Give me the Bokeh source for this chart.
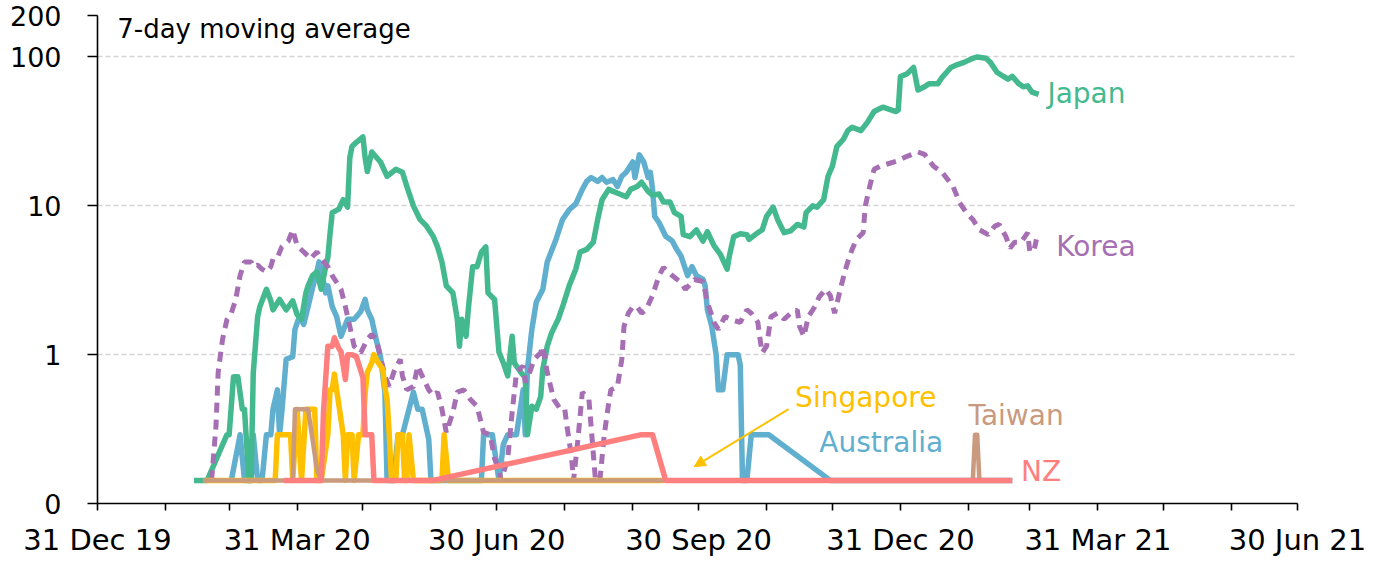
import pandas as pd
from bokeh.plotting import figure
from bokeh.models import (Range1d, FixedTicker, DatetimeTickFormatter, Label,
                          Arrow, NormalHead, ColumnDataSource)
from bokeh.embed import file_html
from bokeh.resources import INLINE

# ---------------- data (7-day moving average of daily deaths) ----------------
japan_dates = ["2020-02-13","2020-02-19","2020-02-28","2020-02-29","2020-03-02","2020-03-04","2020-03-06","2020-03-07",
 "2020-03-09","2020-03-10","2020-03-11","2020-03-13","2020-03-14","2020-03-17","2020-03-19","2020-03-20","2020-03-23",
 "2020-03-26","2020-03-29","2020-03-31","2020-04-02","2020-04-04","2020-04-05","2020-04-07","2020-04-09","2020-04-11",
 "2020-04-13","2020-04-14","2020-04-15","2020-04-16","2020-04-19","2020-04-21","2020-04-23","2020-04-24","2020-04-25",
 "2020-04-27","2020-04-30","2020-05-01","2020-05-02","2020-05-04","2020-05-08","2020-05-11","2020-05-15","2020-05-18",
 "2020-05-20","2020-05-23","2020-05-26","2020-05-29","2020-06-01","2020-06-03","2020-06-05","2020-06-07","2020-06-10",
 "2020-06-12","2020-06-13","2020-06-14","2020-06-16","2020-06-17","2020-06-19","2020-06-21","2020-06-23","2020-06-25",
 "2020-06-26","2020-06-29","2020-07-01","2020-07-03","2020-07-05","2020-07-07","2020-07-08","2020-07-11","2020-07-13",
 "2020-07-14","2020-07-16","2020-07-18","2020-07-20","2020-07-21","2020-07-23","2020-07-25","2020-07-28","2020-07-30",
 "2020-08-02","2020-08-05","2020-08-07","2020-08-10","2020-08-13","2020-08-15","2020-08-17","2020-08-20","2020-08-22",
 "2020-08-25","2020-08-28","2020-08-30","2020-09-02","2020-09-04","2020-09-07","2020-09-09","2020-09-12","2020-09-14",
 "2020-09-17","2020-09-19","2020-09-22","2020-09-23","2020-09-26","2020-09-29","2020-10-02","2020-10-04","2020-10-07",
 "2020-10-10","2020-10-13","2020-10-14","2020-10-16","2020-10-19","2020-10-22","2020-10-23","2020-10-27","2020-10-29",
 "2020-10-31","2020-11-03","2020-11-05","2020-11-08","2020-11-11","2020-11-14","2020-11-17","2020-11-18","2020-11-21",
 "2020-11-23","2020-11-26","2020-11-28","2020-11-30","2020-12-02","2020-12-05","2020-12-07","2020-12-09","2020-12-13",
 "2020-12-16","2020-12-19","2020-12-21","2020-12-23","2020-12-26","2020-12-29","2020-12-30","2020-12-31","2021-01-03",
 "2021-01-06","2021-01-08","2021-01-11","2021-01-13","2021-01-17","2021-01-19","2021-01-23","2021-01-26","2021-01-29",
 "2021-02-02","2021-02-04","2021-02-08","2021-02-10","2021-02-13","2021-02-16","2021-02-18","2021-02-20","2021-02-23",
 "2021-02-25","2021-02-27","2021-03-01","2021-03-04"]
japan_values = [0.143,0.143,0.29,0.29,0.71,0.71,0.43,0.43,
 0.143,0.143,0.75,1.8,2.1,2.75,2.3,2.0,2.35,
 2.0,2.3,1.86,1.73,2.6,2.9,3.4,3.6,2.75,
 3.9,4.5,6.5,9.0,9.5,11,9.8,21,25,
 26.7,29,21,17,23,19.7,15.8,17.6,16.8,
 13.5,10,8.1,7.3,6.25,5.3,4.2,2.9,2.6,
 1.73,1.14,1.73,1.33,2.0,3.9,3.9,4.9,5.3,
 2.6,2.35,1.04,0.88,0.72,1.33,0.88,0.76,0.7,
 0.29,0.45,0.43,0.52,0.8,1.14,1.4,1.73,2.1,
 2.9,3.75,4.9,5.1,5.7,8.1,11,12.9,12.5,
 12,11.5,12.9,13.5,14.4,12.5,11.8,12,10.6,
 10.6,9.0,8.5,6.4,6.2,6.9,5.8,6.7,5.4,
 4.7,3.75,4.6,6.2,6.5,6.4,5.95,6.6,6.9,
 8.5,9.8,8.1,6.6,6.8,7.5,7.2,9.0,10,
 9.8,11,15.8,18.5,25,28,32,33.7,32,
 36.5,43,44.5,46,44.5,43,44,74,77,
 85,60,63,66,66,73,85,89,92,
 98,100,98,92,79,74,71,74,66,
 63,64,58,56]

korea_dates = ["2020-02-21","2020-02-23","2020-02-24","2020-02-26","2020-02-28","2020-03-01","2020-03-03","2020-03-05",
 "2020-03-07","2020-03-10","2020-03-11","2020-03-13","2020-03-15","2020-03-17","2020-03-19","2020-03-20","2020-03-22",
 "2020-03-24","2020-03-27","2020-03-29","2020-03-31","2020-04-03","2020-04-05","2020-04-06","2020-04-09","2020-04-11",
 "2020-04-14","2020-04-16","2020-04-20","2020-04-22","2020-04-24","2020-04-26","2020-04-29","2020-05-02","2020-05-04",
 "2020-05-06","2020-05-08","2020-05-10","2020-05-12","2020-05-14","2020-05-17","2020-05-18","2020-05-20","2020-05-23",
 "2020-05-25","2020-05-27","2020-05-30","2020-06-01","2020-06-03","2020-06-05","2020-06-07","2020-06-10","2020-06-12",
 "2020-06-15","2020-06-18","2020-06-21","2020-06-24","2020-06-27","2020-06-29","2020-07-01","2020-07-02","2020-07-05",
 "2020-07-07","2020-07-09","2020-07-12","2020-07-13","2020-07-15","2020-07-17","2020-07-20","2020-07-21","2020-07-23",
 "2020-07-26","2020-07-29","2020-07-31","2020-08-01","2020-08-03","2020-08-04","2020-08-06","2020-08-08","2020-08-11",
 "2020-08-12","2020-08-14","2020-08-16","2020-08-18","2020-08-20","2020-08-21","2020-08-24","2020-08-26","2020-08-27",
 "2020-08-29","2020-08-31","2020-09-02","2020-09-04","2020-09-06","2020-09-09","2020-09-12","2020-09-14","2020-09-16",
 "2020-09-18","2020-09-22","2020-09-24","2020-09-26","2020-09-28","2020-10-02","2020-10-04","2020-10-07","2020-10-09",
 "2020-10-12","2020-10-16","2020-10-19","2020-10-22","2020-10-24","2020-10-27","2020-10-28","2020-10-29","2020-10-31",
 "2020-11-02","2020-11-05","2020-11-08","2020-11-11","2020-11-14","2020-11-15","2020-11-17","2020-11-19","2020-11-22",
 "2020-11-24","2020-11-27","2020-11-29","2020-12-01","2020-12-04","2020-12-06","2020-12-07","2020-12-09","2020-12-11",
 "2020-12-14","2020-12-15","2020-12-17","2020-12-19","2020-12-22","2020-12-25","2020-12-29","2021-01-03","2021-01-08",
 "2021-01-11","2021-01-15","2021-01-19","2021-01-24","2021-01-27","2021-01-30","2021-02-02","2021-02-05","2021-02-09",
 "2021-02-12","2021-02-14","2021-02-17","2021-02-19","2021-02-21","2021-02-24","2021-02-27","2021-02-28","2021-03-02",
 "2021-03-03"]
korea_values = [0.143,0.33,0.76,1.27,1.72,1.9,2.35,3.4,
 4.2,4.2,3.9,4.0,3.75,3.6,3.9,4.4,4.5,
 5.3,5.8,6.9,5.4,4.9,4.6,4.4,4.9,4.4,
 3.9,3.4,2.75,2.1,1.55,1.14,1.03,1.27,1.37,
 1.27,0.97,0.72,0.61,0.76,0.93,0.72,0.58,0.61,
 0.84,0.72,0.58,0.53,0.56,0.43,0.3,0.41,0.56,
 0.58,0.5,0.45,0.3,0.29,0.2,0.17,0.143,0.2,
 0.41,0.76,0.84,0.65,0.76,0.93,1.03,1.14,0.76,
 0.5,0.43,0.43,0.33,0.21,0.143,0.27,0.56,0.5,
 0.33,0.143,0.143,0.29,0.47,0.58,0.61,0.93,1.55,
 1.9,2.1,2.1,1.9,2.0,2.5,3.4,3.85,3.6,
 3.4,3.05,2.75,2.95,3.2,3.1,2.25,1.65,1.48,
 1.8,1.7,1.65,2.0,1.9,1.65,1.27,1.03,1.14,
 1.8,1.9,1.73,1.9,2.0,1.55,1.33,1.8,2.1,
 2.45,2.75,2.5,1.9,2.9,3.75,4.2,5.1,5.95,
 6.6,10,13.5,17.6,18.5,19.1,19.9,21.5,23,
 22.2,18.5,16.8,13.5,10.5,9.0,8.1,6.9,6.4,
 7.3,7.5,6.25,5.2,5.7,5.7,6.6,4.9,5.1,
 5.95]

australia_dates = ["2020-03-01","2020-03-05","2020-03-07","2020-03-10","2020-03-11","2020-03-13","2020-03-15","2020-03-17",
 "2020-03-19","2020-03-20","2020-03-22","2020-03-23","2020-03-24","2020-03-26","2020-03-29","2020-03-30","2020-04-01",
 "2020-04-03","2020-04-05","2020-04-07","2020-04-09","2020-04-10","2020-04-11","2020-04-13","2020-04-14","2020-04-16",
 "2020-04-18","2020-04-20","2020-04-23","2020-04-26","2020-04-29","2020-05-01","2020-05-02","2020-05-04","2020-05-06",
 "2020-05-08","2020-05-10","2020-05-11","2020-05-14","2020-05-16","2020-05-18","2020-05-21","2020-05-23","2020-05-25",
 "2020-05-27","2020-05-30","2020-05-31","2020-06-23","2020-06-24","2020-06-28","2020-07-01","2020-07-03","2020-07-05",
 "2020-07-09","2020-07-12","2020-07-13","2020-07-14","2020-07-16","2020-07-18","2020-07-21","2020-07-23","2020-07-27",
 "2020-07-30","2020-08-02","2020-08-05","2020-08-08","2020-08-10","2020-08-12","2020-08-15","2020-08-17","2020-08-19",
 "2020-08-22","2020-08-24","2020-08-26","2020-08-28","2020-08-31","2020-09-01","2020-09-03","2020-09-05","2020-09-07",
 "2020-09-08","2020-09-09","2020-09-10","2020-09-12","2020-09-15","2020-09-18","2020-09-20","2020-09-22","2020-09-25",
 "2020-09-27","2020-09-29","2020-10-02","2020-10-03","2020-10-04","2020-10-06","2020-10-08","2020-10-09","2020-10-11",
 "2020-10-13","2020-10-18","2020-10-19","2020-10-20","2020-10-22","2020-10-24","2020-11-01","2020-11-29","2021-02-20"]
australia_values = [0.143,0.29,0.143,0.143,0.29,0.143,0.143,0.29,
 0.29,0.43,0.58,0.29,0.41,0.93,0.97,1.48,1.8,
 1.6,2.1,2.8,3.6,4.2,3.75,2.6,2.9,2.1,
 1.8,1.33,1.73,1.73,1.95,2.35,2.0,1.73,1.27,
 0.97,0.56,0.143,0.143,0.29,0.29,0.43,0.56,0.43,
 0.43,0.27,0.143,0.143,0.29,0.29,0.143,0.25,0.29,
 0.29,0.58,0.29,0.8,1.48,2.25,2.75,4.2,5.95,
 8.1,9.4,10.3,12.9,14.6,15.5,14.6,15.5,14.4,
 15,13.5,15.8,16.8,19.7,15.5,22,19.7,15.5,
 16.8,12.9,8.5,7.7,6.25,5.8,5.1,4.6,3.4,
 3.9,3.4,3.2,2.9,2.0,1.55,1.0,0.58,0.58,
 1.0,1.0,0.85,0.143,0.143,0.29,0.29,0.143,0.143]

singapore_dates = ["2020-02-18","2020-03-21","2020-03-22","2020-03-28","2020-03-29","2020-03-31","2020-04-02","2020-04-04",
 "2020-04-08","2020-04-09","2020-04-11","2020-04-14","2020-04-15","2020-04-16","2020-04-17","2020-04-18","2020-04-21",
 "2020-04-22","2020-04-23","2020-04-25","2020-04-26","2020-04-28","2020-04-30","2020-05-01","2020-05-02","2020-05-04",
 "2020-05-05","2020-05-07","2020-05-09","2020-05-10","2020-05-11","2020-05-12","2020-05-13","2020-05-15","2020-05-16",
 "2020-05-18","2020-05-19","2020-05-20","2020-05-21","2020-05-23","2020-06-05","2020-06-06","2020-06-08","2020-09-14"]
singapore_values = [0.143,0.143,0.29,0.29,0.143,0.43,0.143,0.43,
 0.43,0.143,0.143,0.29,0.58,0.58,0.74,0.58,0.29,
 0.143,0.29,0.29,0.143,0.29,0.29,0.55,0.76,0.88,
 1.0,0.88,0.8,0.61,0.5,0.29,0.143,0.143,0.29,
 0.29,0.143,0.143,0.29,0.143,0.143,0.29,0.143,0.143]

nz_dates = ["2020-03-25","2020-04-11","2020-04-12","2020-04-14","2020-04-16","2020-04-17","2020-04-19","2020-04-20",
 "2020-04-22","2020-04-23","2020-04-25","2020-04-27","2020-04-30","2020-05-01","2020-05-04","2020-05-05","2020-06-01",
 "2020-09-04","2020-09-09","2020-09-15","2021-02-20"]
nz_values = [0.143,0.143,0.41,1.14,1.14,1.3,1.1,1.05,
 0.68,1.0,1.0,0.97,0.7,0.29,0.29,0.143,0.143,
 0.29,0.29,0.143,0.143]

taiwan_dates = ["2020-02-17","2020-03-29","2020-03-30","2020-04-05","2020-04-07","2020-04-09","2020-04-11","2021-02-02",
 "2021-02-03","2021-02-04","2021-02-05","2021-02-10"]
taiwan_values = [0.143,0.143,0.43,0.43,0.27,0.17,0.143,0.143,
 0.29,0.29,0.143,0.143]

y_tick_values = [0.1, 1, 10, 100, 190]
y_tick_labels = ["0", "1", "10", "100", "200"]
x_start, x_end = "2019-12-31", "2021-06-30"

# ---------------- style ----------------
FONT = "DejaVu Sans"
C_JAPAN, C_KOREA, C_AUS = "#44B98F", "#A66FB4", "#60AFCF"
C_SING, C_NZ, C_TWN = "#FFC000", "#FF7F7F", "#C99A7E"

def ms(s):
    return pd.Timestamp(s).value / 1e6

p = figure(width=1369, height=564, x_axis_type="datetime", y_axis_type="log",
           x_range=Range1d(ms(x_start), ms(x_end)), y_range=Range1d(0.1, 190),
           output_backend="svg", toolbar_location=None,
           min_border_left=97, min_border_right=72, min_border_top=15, min_border_bottom=61)
p.outline_line_color = None
p.background_fill_color = "white"
p.border_fill_color = "white"

def src(d, v):
    return ColumnDataSource(dict(x=pd.to_datetime(d), y=v))

LW = 5.5
p.line("x", "y", source=src(australia_dates, australia_values), color=C_AUS, line_width=LW, line_join="round")
p.line("x", "y", source=src(japan_dates, japan_values), color=C_JAPAN, line_width=LW, line_join="round")
p.line("x", "y", source=src(korea_dates, korea_values), color=C_KOREA, line_width=5, line_dash="10 7")
p.line("x", "y", source=src(singapore_dates, singapore_values), color=C_SING, line_width=LW, line_join="round")
p.line("x", "y", source=src(taiwan_dates, taiwan_values), color=C_TWN, line_width=4.5, line_join="round")
p.line("x", "y", source=src(nz_dates, nz_values), color=C_NZ, line_width=LW, line_join="round")

# ---------------- axes ----------------
months = pd.date_range("2020-01-31", "2021-05-31", freq="ME")
quarters = [ms(d) for d in pd.date_range(x_start, x_end, freq="QE")]
minor = [ms(d) for d in months if ms(d) not in quarters]
xa = p.xaxis[0]
xa.ticker = FixedTicker(ticks=quarters, minor_ticks=minor)
xa.formatter = DatetimeTickFormatter(days="%d %b %y", months="%d %b %y", years="%d %b %y")
xa.major_tick_out = 7; xa.major_tick_in = 0
xa.minor_tick_out = 7; xa.minor_tick_in = 0
xa.minor_tick_line_color = "black"
xa.major_label_standoff = 12
xa.major_label_text_font = FONT
xa.major_label_text_font_size = "29px"
xa.major_label_text_color = "black"

ya = p.yaxis[0]
ya.ticker = FixedTicker(ticks=y_tick_values, minor_ticks=[])
ya.major_label_overrides = {k: v for k, v in zip(y_tick_values, y_tick_labels)}
ya.major_tick_out = 10; ya.major_tick_in = 0
ya.major_label_standoff = 26
ya.major_label_text_font = FONT
ya.major_label_text_font_size = "27px"
ya.major_label_text_color = "black"

for ax in (xa, ya):
    ax.axis_line_color = "black"; ax.axis_line_width = 1.6
    ax.major_tick_line_color = "black"; ax.major_tick_line_width = 1.6
    ax.minor_tick_line_width = 1.6

p.xgrid.visible = False
p.ygrid.ticker = FixedTicker(ticks=[1, 10, 100])
p.ygrid.grid_line_color = "#D4D4D4"
p.ygrid.grid_line_dash = "5 3"
p.ygrid.grid_line_width = 1.5

# ---------------- annotations ----------------
def lab(text, date, val, color, size):
    p.add_layout(Label(x=ms(date), y=val, text=text, text_color=color, text_font=FONT,
                       text_font_size=size, text_baseline="alphabetic", text_align="left"))

lab("7-day moving average", "2020-01-09", 155, "black", "26px")
lab("Japan", "2021-03-08", 57, C_JAPAN, "28px")
lab("Korea", "2021-03-12", 5.35, C_KOREA, "28px")
lab("Singapore", "2020-11-13", 0.516, C_SING, "28px")
lab("Australia", "2020-11-24", 0.258, C_AUS, "28px")
lab("Taiwan", "2021-01-31", 0.39, C_TWN, "28px")
lab("NZ", "2021-02-24", 0.164, C_NZ, "28px")

p.add_layout(Arrow(x_start=ms("2020-11-10"), y_start=0.43, x_end=ms("2020-09-28"), y_end=0.177,
                   line_color=C_SING, line_width=2,
                   end=NormalHead(size=11, fill_color=C_SING, line_color=C_SING)))

open("out.html", "w").write(file_html(p, INLINE))
